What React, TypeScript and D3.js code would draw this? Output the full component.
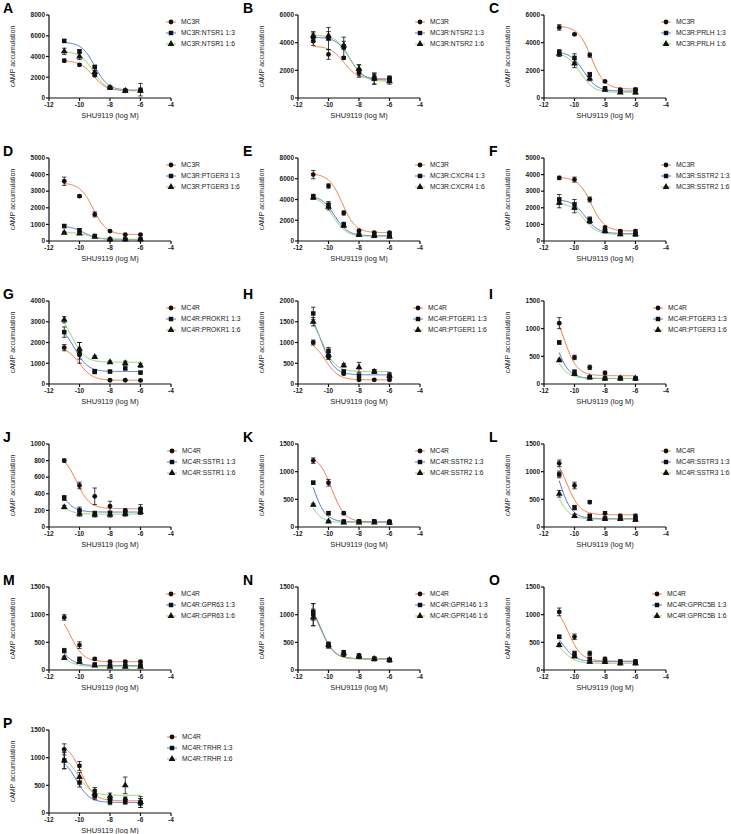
import * as d3 from "d3";

// doses (log M) used in every panel
const doses = [-11, -10, -9, -8, -7, -6];

const panelLetters = ["A", "B", "C", "D", "E", "F", "G", "H", "I", "J", "K", "L", "M", "N", "O", "P"];
const hosts = ["MC3R", "MC3R", "MC3R", "MC3R", "MC3R", "MC3R", "MC4R", "MC4R", "MC4R", "MC4R", "MC4R", "MC4R", "MC4R", "MC4R", "MC4R", "MC4R"];
const partners = ["NTSR1", "NTSR2", "PRLH", "PTGER3", "CXCR4", "SSTR2", "PROKR1", "PTGER1", "PTGER3", "SSTR1", "SSTR2", "SSTR3", "GPR63", "GPR146", "GPRC5B", "TRHR"];
const yMaxes = [8000, 6000, 6000, 5000, 8000, 5000, 4000, 2000, 1500, 1000, 1500, 1500, 1500, 1500, 1500, 1500];
const yTickSteps = [2000, 2000, 2000, 1000, 2000, 1000, 1000, 500, 500, 200, 500, 500, 500, 500, 500, 500];
const xTickValues = [-12, -10, -8, -6, -4];

// receptor alone
const controlMeans = [
  [3600, 3200, 2200, 1000, 700, 700],
  [4100, 3150, 2900, 1800, 1500, 1400],
  [5100, 4600, 3100, 1200, 600, 600],
  [3600, 2700, 1600, 600, 380, 380],
  [6400, 5300, 2700, 1000, 800, 800],
  [3800, 3700, 2500, 800, 600, 600],
  [1750, 1400, 600, 180, 180, 170],
  [1000, 650, 250, 100, 100, 100],
  [1100, 480, 300, 200, 110, 100],
  [800, 500, 370, 250, 200, 220],
  [1200, 800, 250, 100, 100, 100],
  [1150, 750, 450, 250, 200, 200],
  [950, 450, 200, 150, 150, 150],
  [1000, 450, 300, 250, 200, 180],
  [1050, 600, 300, 200, 150, 150],
  [1150, 850, 400, 250, 250, 200],
];
const controlSem = [
  [150, 100, 150, 100, 80, 100],
  [300, 350, 80, 300, 200, 150],
  [200, 80, 150, 60, 50, 50],
  [250, 80, 150, 50, 30, 30],
  [400, 200, 200, 100, 80, 80],
  [100, 150, 150, 100, 80, 80],
  [150, 200, 100, 30, 30, 30],
  [60, 60, 30, 20, 20, 20],
  [100, 40, 40, 30, 20, 20],
  [20, 40, 100, 60, 20, 50],
  [50, 60, 30, 20, 20, 20],
  [60, 60, 30, 30, 30, 30],
  [50, 60, 20, 20, 20, 20],
  [200, 50, 50, 30, 30, 30],
  [70, 50, 40, 30, 30, 30],
  [100, 80, 60, 40, 40, 60],
];
const controlFits = [
  [3600, 700, -9.1], [3750, 1400, -9.0], [5200, 650, -8.9], [3500, 390, -9.1],
  [6500, 800, -9.1], [3850, 600, -8.9], [1800, 180, -10.0], [1050, 100, -10.2],
  [1500, 150, -10.7], [880, 220, -10.2], [1300, 90, -9.8], [1350, 220, -10.5],
  [1100, 150, -10.6], [1300, 200, -10.5], [1200, 160, -10.4], [1250, 220, -9.9],
];

// receptor : partner 1:3
const ratio13Means = [
  [5500, 4500, 3000, 1000, 700, 800],
  [4400, 4300, 3700, 2000, 1400, 1400],
  [3300, 2900, 1700, 700, 500, 600],
  [900, 650, 300, 100, 100, 100],
  [4300, 3500, 1600, 600, 500, 500],
  [2500, 2200, 1300, 600, 500, 400],
  [2500, 1500, 600, 600, 750, 550],
  [1700, 800, 300, 200, 300, 200],
  [750, 220, 120, 100, 100, 100],
  [350, 200, 160, 160, 170, 200],
  [800, 250, 100, 100, 100, 80],
  [950, 350, 200, 150, 150, 150],
  [350, 200, 100, 80, 80, 80],
  [1050, 450, 300, 250, 200, 180],
  [600, 300, 200, 150, 150, 150],
  [950, 550, 300, 200, 200, 180],
];
const ratio13Sem = [
  [150, 100, 100, 100, 100, 600],
  [300, 800, 700, 400, 400, 200],
  [200, 300, 150, 80, 50, 80],
  [100, 80, 40, 30, 30, 30],
  [200, 300, 200, 80, 50, 50],
  [300, 300, 150, 80, 80, 80],
  [250, 500, 100, 60, 60, 60],
  [150, 80, 40, 40, 40, 40],
  [30, 30, 20, 20, 20, 20],
  [30, 40, 30, 30, 30, 30],
  [30, 30, 20, 20, 20, 20],
  [60, 40, 30, 30, 30, 30],
  [40, 30, 20, 20, 20, 20],
  [150, 50, 50, 40, 30, 30],
  [30, 40, 30, 30, 30, 30],
  [150, 80, 60, 50, 40, 80],
];
const ratio13Fits = [
  [5400, 750, -9.0], [4400, 1300, -8.6], [3350, 500, -9.4], [900, 100, -9.7],
  [4400, 500, -9.6], [2500, 450, -9.3], [2800, 600, -10.3], [1900, 220, -10.5],
  [1500, 100, -11.3], [700, 180, -11.3], [1500, 90, -11.1], [1700, 150, -11.1],
  [650, 80, -11.2], [1300, 200, -10.5], [800, 150, -10.8], [1000, 190, -10.2],
];

// receptor : partner 1:6
const ratio16Means = [
  [4500, 4000, 2500, 1000, 700, 700],
  [4500, 4500, 3800, 2100, 1400, 1200],
  [3200, 2500, 1400, 600, 400, 400],
  [500, 450, 250, 100, 100, 100],
  [4200, 3300, 1500, 600, 500, 400],
  [2300, 2000, 1200, 600, 400, 400],
  [3100, 1700, 1300, 1050, 1000, 900],
  [1500, 700, 450, 400, 300, 200],
  [430, 180, 120, 100, 100, 100],
  [240, 160, 150, 150, 160, 180],
  [400, 100, 80, 80, 80, 80],
  [600, 200, 150, 150, 150, 130],
  [220, 150, 80, 60, 60, 60],
  [950, 450, 300, 250, 200, 180],
  [450, 250, 150, 150, 120, 120],
  [950, 650, 350, 300, 500, 200],
];
const ratio16Sem = [
  [300, 300, 150, 100, 80, 80],
  [300, 300, 300, 300, 400, 200],
  [200, 300, 150, 80, 50, 100],
  [60, 60, 40, 20, 20, 20],
  [200, 300, 200, 80, 50, 50],
  [300, 300, 150, 100, 80, 80],
  [150, 300, 60, 60, 100, 100],
  [100, 60, 40, 120, 40, 80],
  [20, 20, 20, 20, 20, 20],
  [20, 30, 30, 30, 30, 30],
  [20, 20, 20, 20, 20, 20],
  [60, 30, 30, 30, 30, 30],
  [30, 30, 20, 20, 20, 20],
  [150, 50, 50, 40, 30, 30],
  [30, 30, 30, 30, 30, 30],
  [150, 80, 60, 60, 150, 100],
];
const ratio16Fits = [
  [4500, 700, -9.1], [4550, 1200, -8.6], [3250, 400, -9.6], [520, 90, -9.3],
  [4300, 450, -9.7], [2300, 400, -9.4], [3500, 1050, -10.5], [1700, 300, -10.4],
  [900, 100, -11.3], [500, 155, -11.5], [1000, 80, -11.4], [1100, 140, -11.2],
  [350, 60, -11.0], [1250, 200, -10.5], [600, 120, -10.8], [1050, 320, -10.1],
];

const seriesColors = ["#f37848", "#4f72d6", "#92d06a"];
const seriesSymbols = [d3.symbolCircle, d3.symbolSquare, d3.symbolTriangle];
const symbolSizes = [18, 20, 20];

const FONT = "'Liberation Sans', Arial, sans-serif";
const colX = [49, 298, 544];
const labelX = [3, 243, 489];
const rowTop = 15;
const rowGap = 143;
const plotW = 122;
const plotH = 83;
// legend marker offset from y axis (panels I and O sit a bit further left)
const legendShift = [122, 122, 122, 122, 122, 122, 122, 120, 114, 123, 122, 122, 122, 122, 113, 123];

// log(inhibitor) vs response, standard slope
const response = (x: number, fit: number[]) =>
  fit[1] + (fit[0] - fit[1]) / (1 + Math.pow(10, x - fit[2]));

function Panel({ i }: { i: number }) {
  const col = i % 3;
  const row = Math.floor(i / 3);
  const x0 = colX[col];
  const top = rowTop + row * rowGap;
  const bottom = top + plotH;

  const x = d3.scaleLinear().domain([-12, -4]).range([x0, x0 + plotW]);
  const y = d3.scaleLinear().domain([0, yMaxes[i]]).range([bottom, top]);
  const yTicks = d3.range(0, yMaxes[i] + 1, yTickSteps[i]);

  const series = [
    { name: hosts[i], means: controlMeans[i], sem: controlSem[i], fit: controlFits[i] },
    { name: `${hosts[i]}:${partners[i]} 1:3`, means: ratio13Means[i], sem: ratio13Sem[i], fit: ratio13Fits[i] },
    { name: `${hosts[i]}:${partners[i]} 1:6`, means: ratio16Means[i], sem: ratio16Sem[i], fit: ratio16Fits[i] },
  ];

  const curveXs = d3.range(-11, -5.999, 0.05);
  const legX = x0 + legendShift[i];

  return (
    <g>
      <text x={labelX[col]} y={top - 2} fontSize={14} fontWeight="bold" fontFamily={FONT}>
        {panelLetters[i]}
      </text>

      {/* fitted curves */}
      {series.map((s, k) => {
        const curve = d3
          .line<number>()
          .x((d) => x(d))
          .y((d) => y(response(d, s.fit)));
        return (
          <path key={"c" + k} d={curve(curveXs) || ""} fill="none" stroke={seriesColors[k]} strokeWidth={1} />
        );
      })}

      {/* error bars */}
      {series.map((s, k) =>
        s.means.map((m, j) => {
          const cx = x(doses[j]);
          const y1 = y(m + s.sem[j]);
          const y2 = y(Math.max(0, m - s.sem[j]));
          return (
            <g key={"e" + k + "-" + j} stroke="#111" strokeWidth={0.8}>
              <line x1={cx} x2={cx} y1={y1} y2={y2} />
              <line x1={cx - 2.2} x2={cx + 2.2} y1={y1} y2={y1} />
              <line x1={cx - 2.2} x2={cx + 2.2} y1={y2} y2={y2} />
            </g>
          );
        })
      )}

      {/* points */}
      {series.map((s, k) =>
        s.means.map((m, j) => (
          <path
            key={"p" + k + "-" + j}
            transform={`translate(${x(doses[j])},${y(m)})`}
            d={d3.symbol().type(seriesSymbols[k]).size(symbolSizes[k])() || ""}
            fill="#111"
          />
        ))
      )}

      {/* y axis */}
      <line x1={x0} x2={x0} y1={top} y2={bottom} stroke="#111" strokeWidth={1.2} />
      {yTicks.map((t) => (
        <g key={"yt" + t}>
          <line x1={x0 - 3} x2={x0} y1={y(t)} y2={y(t)} stroke="#111" strokeWidth={1.2} />
          <text
            x={x0 - 4}
            y={y(t)}
            dy="0.35em"
            textAnchor="end"
            fontSize={6.5}
            fontWeight="bold"
            fontFamily={FONT}
            fill="#222"
          >
            {t}
          </text>
        </g>
      ))}
      <text
        transform={`translate(${x0 - 34},${top + plotH / 2}) rotate(-90)`}
        textAnchor="middle"
        fontSize={7}
        fontFamily={FONT}
        fill="#222"
      >
        cAMP accumulation
      </text>

      {/* x axis */}
      <line x1={x0} x2={x0 + plotW} y1={bottom} y2={bottom} stroke="#111" strokeWidth={1.2} />
      {xTickValues.map((t) => (
        <g key={"xt" + t}>
          <line x1={x(t)} x2={x(t)} y1={bottom} y2={bottom + 3} stroke="#111" strokeWidth={1.2} />
          <text x={x(t)} y={bottom + 9} textAnchor="middle" fontSize={6.5} fontWeight="bold" fontFamily={FONT} fill="#222">
            {t}
          </text>
        </g>
      ))}
      <text x={x0 + plotW / 2} y={bottom + 20} textAnchor="middle" fontSize={7.5} fontFamily={FONT} fill="#222">
        SHU9119 (log M)
      </text>

      {/* legend */}
      {series.map((s, k) => {
        const ly = top + 7 + k * 11;
        return (
          <g key={"l" + k}>
            <line x1={legX - 5} x2={legX + 5} y1={ly} y2={ly} stroke={seriesColors[k]} strokeWidth={1} />
            <path
              transform={`translate(${legX},${ly})`}
              d={d3.symbol().type(seriesSymbols[k]).size(symbolSizes[k])() || ""}
              fill="#111"
            />
            <text x={legX + 10} y={ly} dy="0.35em" fontSize={6.7} fontFamily={FONT} fill="#222">
              {s.name}
            </text>
          </g>
        );
      })}
    </g>
  );
}

export default function App() {
  return (
    <svg
      width={731}
      height={834}
      style={{ position: "absolute", left: 0, top: 0, background: "#fff" }}
    >
      <rect width={731} height={834} fill="#fff" />
      {panelLetters.map((_, i) => (
        <Panel key={i} i={i} />
      ))}
    </svg>
  );
}
